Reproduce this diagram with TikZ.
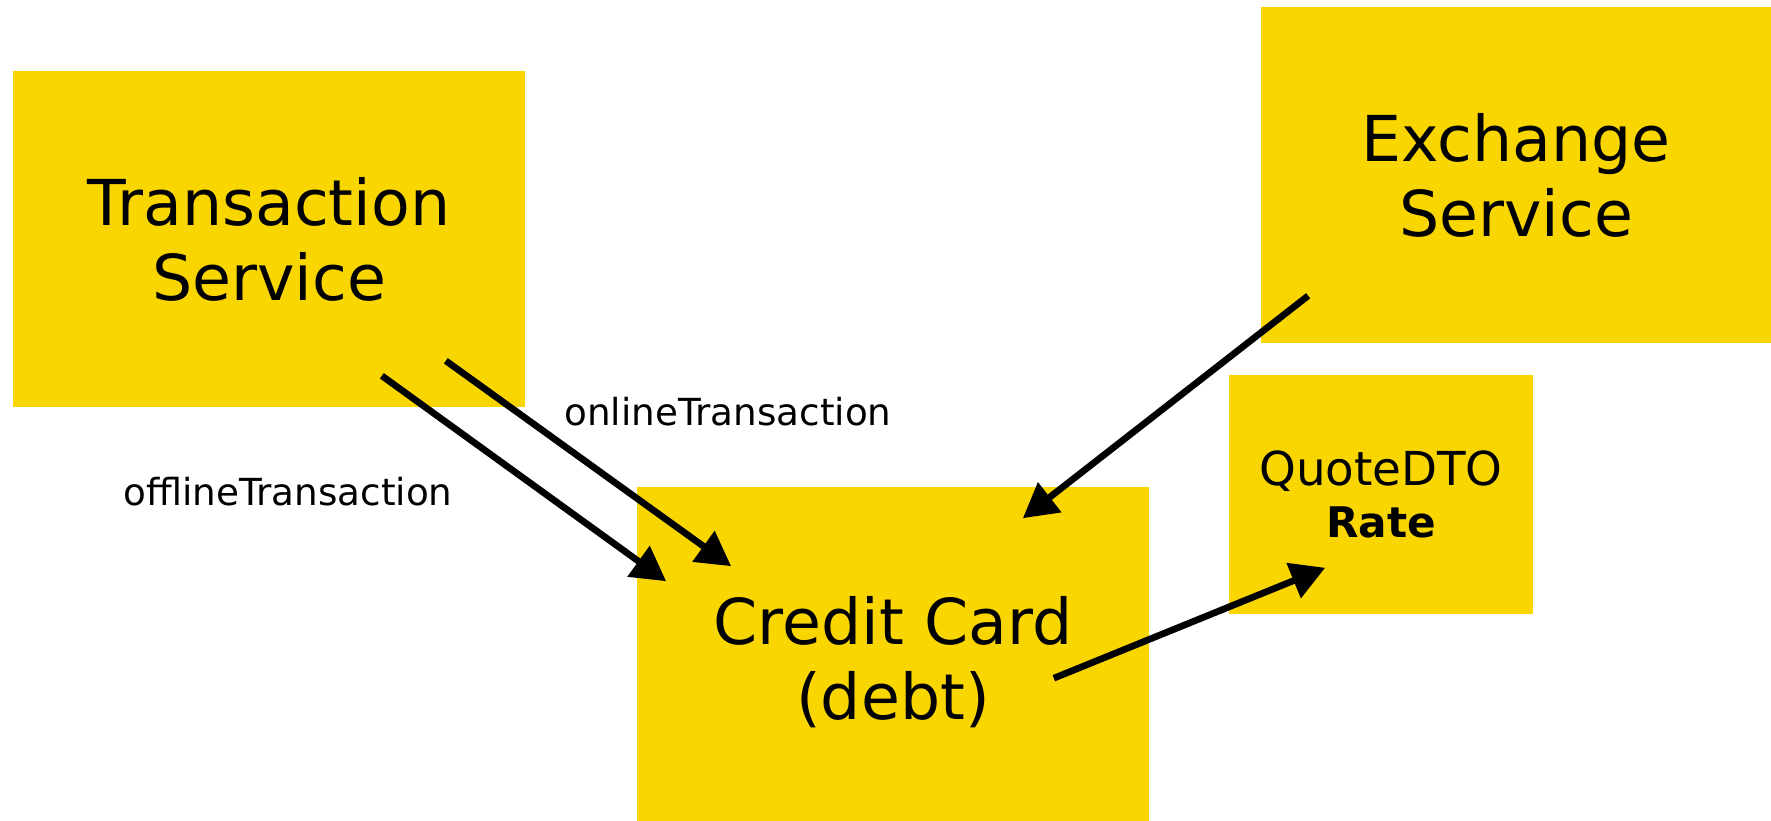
\documentclass[tikz,border=0pt]{standalone}
\usepackage{fontspec}
\setmainfont{DejaVu Sans}
\usetikzlibrary{arrows.meta}
\definecolor{boxyellow}{RGB}{250,214,0}
\begin{document}
\begin{tikzpicture}[x=0.01cm,y=-0.01cm,
    box/.style={fill=boxyellow,inner sep=0pt,align=center,font=\fontsize{18}{21.3}\selectfont},
    flow/.style={line width=1.9pt,-{Triangle[length=9.7pt,width=10.4pt]}},
    lbl/.style={font=\fontsize{10.6}{12}\selectfont}]
    \useasboundingbox (0,0) rectangle (1771,821);
    % services
    \node[box,minimum width=5.12cm,minimum height=3.36cm] (trans) at (269,239) {Transaction\\Service};
    \node[box,minimum width=5.10cm,minimum height=3.36cm] (exch) at (1516,175) {Exchange\\Service};
    \node[box,minimum width=5.12cm,minimum height=3.50cm] (credit) at (893,662) {Credit Card\\(debt)};
    \node[box,minimum width=3.04cm,minimum height=2.39cm,font=\fontsize{13.3}{14.8}\selectfont] (quote) at (1381,494.5)
        {QuoteDTO\\{\fontsize{12}{14.8}\selectfont\bfseries Rate}};
    % labels
    \node[lbl] (onlbl) at (728,412) {onlineTransaction};
    \node[lbl] (offlbl) at (288,492) {offlineTransaction};
    % arrows
    \draw[flow] ([shift={(-144,-32)}]trans.south east) -- ([shift={(30,95)}]credit.north west);
    \draw[flow] ([shift={(-80,-47)}]trans.south east) -- ([shift={(95,80)}]credit.north west);
    \draw[flow] ([shift={(48,-48)}]exch.south west) -- ([shift={(-127,32)}]credit.north east);
    \draw[flow] ([shift={(-96,192)}]credit.north east) -- ([shift={(97,-47)}]quote.south west);
\end{tikzpicture}
\end{document}
